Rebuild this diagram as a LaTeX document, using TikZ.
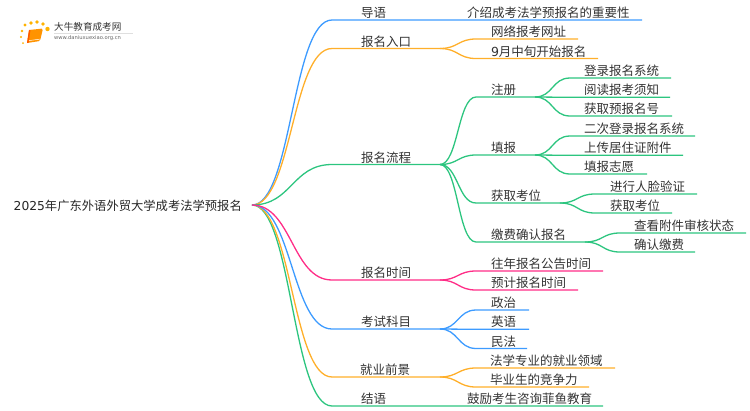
\documentclass[tikz,border=0pt]{standalone}
\usepackage{fontspec}
\setmainfont{Noto Sans CJK SC}
\newfontfamily\latinfont{DejaVu Sans}
\usetikzlibrary{positioning}
\definecolor{mapblue}{HTML}{3D9BFF}
\definecolor{maporange}{HTML}{FFAF2A}
\definecolor{mapgreen}{HTML}{2CC57F}
\definecolor{mappink}{HTML}{FF2D87}
\definecolor{maptext}{HTML}{333333}
\tikzset{
  lab/.style 2 args={anchor=south west, inner sep=0pt, outer sep=0pt, text=maptext, text width=#1pt, align=left,
    text height=10pt, text depth=2.4pt, font=\fontsize{12.5pt}{12.5pt}\selectfont, execute at begin node={\hspace*{#2pt}}},
  branch/.style={to path={.. controls ([xshift=#1]\tikztostart) and ([xshift=-#1]\tikztotarget) .. (\tikztotarget)}},
  blueline/.style={draw=mapblue, line width=1.3pt},
  orangeline/.style={draw=maporange, line width=1.3pt},
  greenline/.style={draw=mapgreen, line width=1.3pt},
  pinkline/.style={draw=mappink, line width=1.3pt}
}
\begin{document}
\begin{tikzpicture}[x=1pt, y=-1pt]
\useasboundingbox (0,0) rectangle (750,410);
% logo
\fill[rounded corners=1.5pt, orange!85!yellow] (29,30) -- (43,28.5) -- (40,41) -- (27,43) -- cycle;
\fill[orange!70!red] (27,43) -- (29,30) -- (30.5,29.8) -- (28.6,42.8) -- cycle;
\draw[white, line width=0.5pt] (29,40.6) -- (39.6,39.2);
\fill[orange!60!yellow] (25,25) circle (1.6) (31,23) circle (1.8) (37,22) circle (1.8) (43,24) circle (1.8) (47.5,29) circle (2.2) (22,31) circle (1.4) (21,37) circle (1.2) (23,43) circle (1);
\draw[gray!25] (54,33) -- (133,33);
\node[anchor=west, inner sep=0pt, text=maptext, font=\fontsize{9.6pt}{9.6pt}\selectfont] (logotitle) at (54,27) {大牛教育成考网};
\node[anchor=west, inner sep=0pt, text=black!60, font=\latinfont\fontsize{5.2pt}{5.2pt}\selectfont] (logourl) at (54,38.5) {www.daniuxuexiao.org.cn};
% root
\node[anchor=east, inner sep=0pt, inner xsep=10pt, text height=12pt, text depth=1.5pt, text=black!85, font=\fontsize{12.3pt}{12.3pt}\selectfont] (root) at (252,205) {{\latinfont 2025}年广东外语外贸大学成考法学预报名};
% first level
\node[lab={108}{29}] (intro) at (332,20) {导语};
\node[lab={108}{29}] (entry) at (332,48.5) {报名入口};
\node[lab={108}{29}] (flow) at (332,164.5) {报名流程};
\node[lab={108}{29}] (date) at (332,280) {报名时间};
\node[lab={108}{29}] (subject) at (332,329) {考试科目};
\node[lab={108}{28}] (career) at (332,377) {就业前景};
\node[lab={108}{29}] (ending) at (332,406) {结语};
% second level
\node[lab={202}{27}] (introA) at (440,20) {介绍成考法学预报名的重要性};
\node[lab={102}{15}] (entryA) at (476,39) {网络报考网址};
\node[lab={122}{15}] (entryB) at (476,58.5) {{\latinfont 9}月中旬开始报名};
\node[lab={59}{15}] (flowA) at (476,97) {注册};
\node[lab={59}{15}] (flowB) at (476,155) {填报};
\node[lab={84}{15}] (flowC) at (476,203) {获取考位};
\node[lab={109}{15}] (flowD) at (476,242) {缴费确认报名};
\node[lab={127}{15}] (dateA) at (476,271) {往年报名公告时间};
\node[lab={102}{15}] (dateB) at (476,290) {预计报名时间};
\node[lab={53}{15}] (subjectA) at (476,310) {政治};
\node[lab={53}{15}] (subjectB) at (476,329.3) {英语};
\node[lab={51}{15}] (subjectC) at (476,348.5) {民法};
\node[lab={139}{14}] (careerA) at (476,368) {法学专业的就业领域};
\node[lab={113}{14}] (careerB) at (476,387) {毕业生的竞争力};
\node[lab={163}{27}] (endingA) at (440,406) {鼓励考生咨询菲鱼教育};
% third level
\node[lab={101}{14}] (flowAa) at (570,78) {登录报名系统};
\node[lab={100}{14}] (flowAb) at (570,97.3) {阅读报考须知};
\node[lab={102}{14}] (flowAc) at (570,116) {获取预报名号};
\node[lab={125}{14}] (flowBa) at (570,136) {二次登录报名系统};
\node[lab={113}{14}] (flowBb) at (570,155.3) {上传居住证附件};
\node[lab={77}{14}] (flowBc) at (570,174) {填报志愿};
\node[lab={102}{15}] (flowCa) at (595,194) {进行人脸验证};
\node[lab={77}{15}] (flowCb) at (595,213) {获取考位};
\node[lab={126}{14}] (flowDa) at (620,233) {查看附件审核状态};
\node[lab={75}{14}] (flowDb) at (620,252) {确认缴费};
% connectors
\draw[blueline] (root.east) to[branch=40pt] (intro.south west) -- (intro.south east) -- (introA.south east);
\draw[orangeline] (root.east) to[branch=40pt] (entry.south west) -- (entry.south east);
\draw[orangeline] (entry.south east) to[branch=18pt] (entryA.south west) -- (entryA.south east);
\draw[orangeline] (entry.south east) to[branch=18pt] (entryB.south west) -- (entryB.south east);
\draw[greenline] (root.east) to[branch=40pt] (flow.south west) -- (flow.south east);
\draw[greenline] (flow.south east) to[branch=18pt] (flowA.south west) -- (flowA.south east);
\draw[greenline] (flow.south east) to[branch=18pt] (flowB.south west) -- (flowB.south east);
\draw[greenline] (flow.south east) to[branch=18pt] (flowC.south west) -- (flowC.south east);
\draw[greenline] (flow.south east) to[branch=18pt] (flowD.south west) -- (flowD.south east);
\draw[greenline] (flowA.south east) to[branch=18pt] (flowAa.south west) -- (flowAa.south east);
\draw[greenline] (flowA.south east) to[branch=18pt] (flowAb.south west) -- (flowAb.south east);
\draw[greenline] (flowA.south east) to[branch=18pt] (flowAc.south west) -- (flowAc.south east);
\draw[greenline] (flowB.south east) to[branch=18pt] (flowBa.south west) -- (flowBa.south east);
\draw[greenline] (flowB.south east) to[branch=18pt] (flowBb.south west) -- (flowBb.south east);
\draw[greenline] (flowB.south east) to[branch=18pt] (flowBc.south west) -- (flowBc.south east);
\draw[greenline] (flowC.south east) to[branch=18pt] (flowCa.south west) -- (flowCa.south east);
\draw[greenline] (flowC.south east) to[branch=18pt] (flowCb.south west) -- (flowCb.south east);
\draw[greenline] (flowD.south east) to[branch=18pt] (flowDa.south west) -- (flowDa.south east);
\draw[greenline] (flowD.south east) to[branch=18pt] (flowDb.south west) -- (flowDb.south east);
\draw[greenline] (root.east) to[branch=40pt] (ending.south west) -- (ending.south east) -- (endingA.south east);
\draw[orangeline] (root.east) to[branch=40pt] (career.south west) -- (career.south east);
\draw[orangeline] (career.south east) to[branch=18pt] (careerA.south west) -- (careerA.south east);
\draw[orangeline] (career.south east) to[branch=18pt] (careerB.south west) -- (careerB.south east);
\draw[blueline] (root.east) to[branch=40pt] (subject.south west) -- (subject.south east);
\draw[blueline] (subject.south east) to[branch=18pt] (subjectA.south west) -- (subjectA.south east);
\draw[blueline] (subject.south east) to[branch=18pt] (subjectB.south west) -- (subjectB.south east);
\draw[blueline] (subject.south east) to[branch=18pt] (subjectC.south west) -- (subjectC.south east);
\draw[pinkline] (root.east) to[branch=40pt] (date.south west) -- (date.south east);
\draw[pinkline] (date.south east) to[branch=18pt] (dateA.south west) -- (dateA.south east);
\draw[pinkline] (date.south east) to[branch=18pt] (dateB.south west) -- (dateB.south east);
\end{tikzpicture}
\end{document}
